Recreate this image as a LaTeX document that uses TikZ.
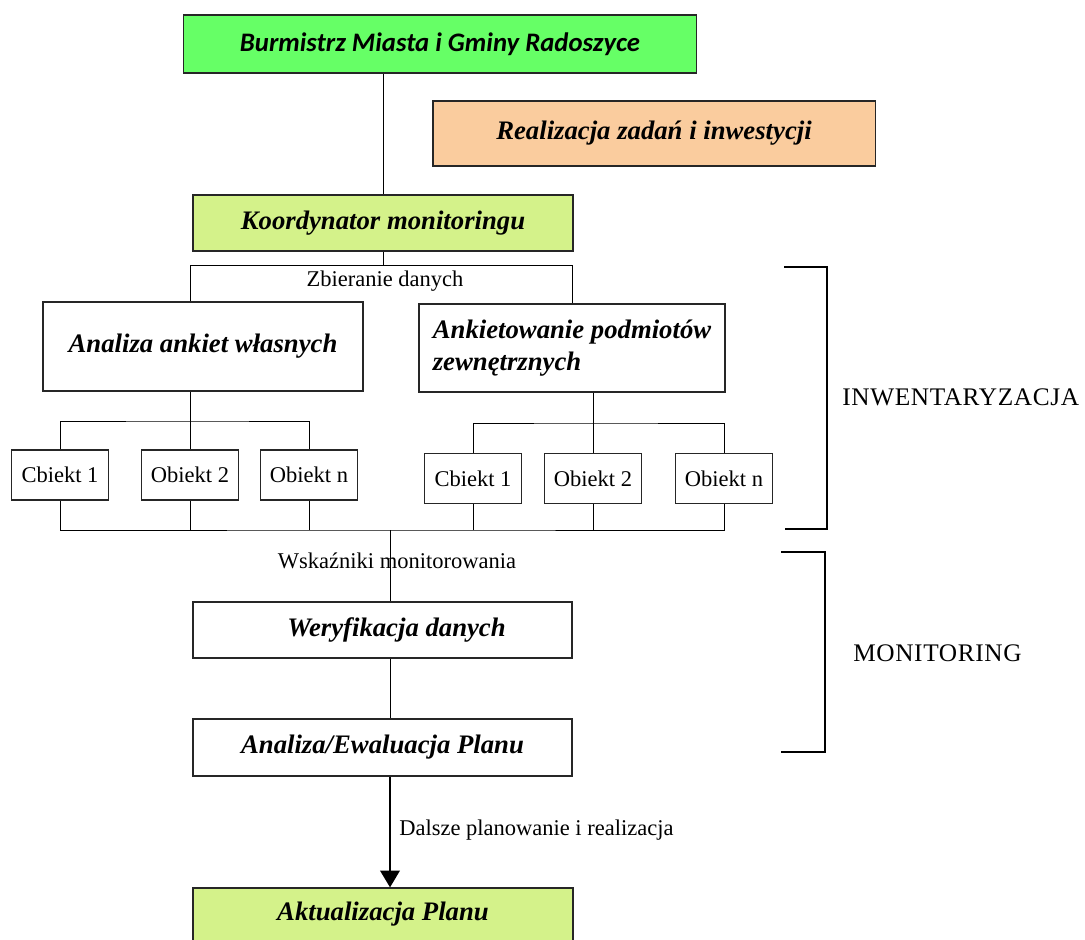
\documentclass[tikz,border=0pt]{standalone}
\usepackage{fontspec}
\setmainfont{Liberation Serif}
\newfontfamily\calibrifont{Carlito}
\usepackage{xcolor}
\usepackage{tikz}
\usetikzlibrary{positioning, arrows.meta}
\definecolor{burmgreen}{HTML}{66FF66}
\definecolor{peach}{HTML}{FACC9E}
\definecolor{lime}{HTML}{D4F28A}
\tikzset{
  box/.style={draw=black!85, line width=0.8pt, rectangle, inner sep=0pt},
  title/.style={font=\fontsize{19}{23}\selectfont\bfseries\itshape},
  plain/.style={font=\fontsize{16}{19}\selectfont, inner sep=0pt},
  caps/.style={font=\fontsize{18}{22}\selectfont\addfontfeature{LetterSpace=2.5}, inner sep=0pt},
  link/.style={line width=0.7pt},
}

\begin{document}
\begin{tikzpicture}[x=0.025cm, y=-0.025cm]
\path[use as bounding box, fill=white] (0,0) rectangle (1085,940);
\clip (0,0) rectangle (1085,940);
% top part
\node[box, fill=burmgreen, minimum width=12.8cm, minimum height=1.45cm, font=\calibrifont\fontsize{19}{22}\selectfont\bfseries\itshape] (burm) at (440,44) {Burmistrz Miasta i Gminy Radoszyce};
\node[box, title, fill=peach, minimum width=11.05cm, minimum height=1.625cm] (real) at (654,133.5) {Realizacja zadań i inwestycji};
\node[box, title, fill=lime, minimum width=9.5cm, minimum height=1.4cm] (koord) at (383,223) {Koordynator monitoringu};
\node[box, title, minimum width=8cm, minimum height=2.225cm] (aaw) at (203,346.5) {Analiza ankiet własnych};
\node[box, title, align=left, minimum width=7.65cm, minimum height=2.2cm] (ank) at (572,348) {Ankietowanie podmiotów\\zewnętrznych};
\foreach \n/\x/\y/\txt in {l1/60/475/Cbiekt 1, l2/190/475/Obiekt 2, l3/309/475/Obiekt n, r1/473/478.5/Cbiekt 1, r2/593/478.5/Obiekt 2, r3/724/478.5/Obiekt n} {
  \node[box, plain, minimum width=2.425cm, minimum height=1.25cm] (\n) at (\x,\y) {\txt};
}
% monitoring part
\node[box, title, minimum width=9.475cm, minimum height=1.4cm] (wer) at (382.5,630) {\hspace*{0.7cm}Weryfikacja danych};
\node[box, title, minimum width=9.475cm, minimum height=1.425cm] (ewal) at (382.5,747.5) {Analiza/Ewaluacja Planu};
\node[box, title, fill=lime, minimum width=9.5cm, minimum height=1.5cm, text depth=9pt] (akt) at (383,918) {Aktualizacja Planu};

\draw[link] (koord.north) -- (koord.north |- burm.south);
\draw[link] (koord.south) -- ++(0,14) coordinate (zb);
\draw[link] (l2.north |- aaw.north) |- (zb) -| (ank.north);
\node[plain] (zbl) at (385,281) {Zbieranie danych};

\coordinate (lb) at (190,421);
\draw[link] (l2.north |- aaw.south) -- (l2.north);
\draw[link] (l1.north) |- (lb) -| (l3.north);
\coordinate (rb) at (593,423);
\draw[link] (r2.north |- ank.south) -- (r2.north);
\draw[link] (r1.north) |- (rb) -| (r3.north);

\coordinate (wsk) at (390,530);
\draw[link] (l1.south) |- (wsk) -| (r3.south);
\foreach \n in {l2,l3,r1,r2} {
  \draw[link] (\n.south) -- (\n.south |- wsk);
}
\draw[link] (wsk) -- (wsk |- wer.north);
\node[plain] (wskl) at (397,561) {Wskaźniki monitorowania};
\draw[link] (wer.south -| wsk) -- (ewal.north -| wsk);
\draw[line width=2.1pt, -{Triangle[width=0.48cm, length=0.42cm]}] (ewal.south -| wsk) -- (akt.north -| wsk);
\node[plain, anchor=west] (dalsze) at (399,830) {Dalsze planowanie i realizacja};

% brackets
\draw[link, line width=0.9pt] (784,267) -- (827,267) -- (827,529) -- (785,529);
\draw[link, line width=0.9pt] (781,552) -- (825,552) -- (825,752) -- (781,752);
\node[caps, anchor=west] (inw) at (842,397) {INWENTARYZACJA};
\node[caps, anchor=west] (mon) at (853,653) {MONITORING};
\end{tikzpicture}
\end{document}
